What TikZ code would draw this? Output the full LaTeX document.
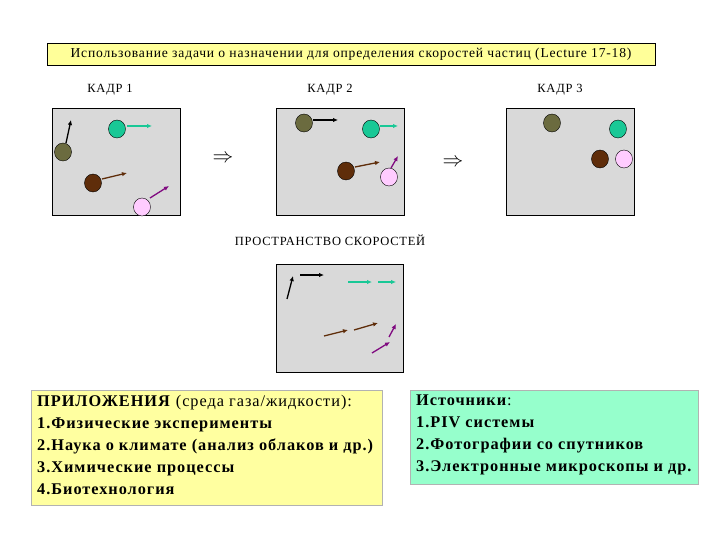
\documentclass[tikz,border=0pt]{standalone}
\usepackage{fontspec}
\setmainfont{Liberation Serif}
\newfontfamily\wide[LetterSpace=6]{Liberation Serif}
\begin{document}
\begin{tikzpicture}[x=1pt,y=-1pt,
 frame/.style={draw=black,fill=black!15},
 arr/.style={-{Latex[length=5pt,width=4.5pt]},line width=1.3pt},
 txt/.style={font=\wide\fontsize{12.5}{14}\selectfont,inner sep=0},
 big/.style={font=\wide\fontsize{16.3}{22}\selectfont,align=left,anchor=north west,inner sep=0}]
\usetikzlibrary{arrows.meta}
\definecolor{olivec}{RGB}{107,107,63}
\definecolor{tealc}{RGB}{25,200,150}
\definecolor{brownc}{RGB}{95,45,10}
\definecolor{pinkc}{RGB}{255,204,255}
\definecolor{purplec}{RGB}{128,10,128}
\definecolor{ybox}{RGB}{255,255,160}
\definecolor{gbox}{RGB}{150,255,204}
\definecolor{tbox}{RGB}{255,255,153}
\useasboundingbox (0,0) rectangle (720,540);
\node[draw,fill=tbox,minimum width=608,minimum height=22,inner sep=0,font=\wide\fontsize{13.6}{14}\selectfont] (title) at (351,54) {Использование задачи о назначении для определения скоростей частиц (Lecture 17-18)};
\node[txt] (k1) at (110,90) {КАДР 1};
\node[txt] (k2) at (330,90) {КАДР 2};
\node[txt] (k3) at (560,90) {КАДР 3};
\node[txt] (ps) at (330,240) {ПРОСТРАНСТВО СКОРОСТЕЙ};
\node[frame,minimum width=128,minimum height=107,inner sep=0] (f1) at (116,161.5) {};
\node[frame,minimum width=128,minimum height=107,inner sep=0] (f2) at (340,161.5) {};
\node[frame,minimum width=128,minimum height=107,inner sep=0] (f3) at (570,161.5) {};
\node[frame,minimum width=127,minimum height=108,inner sep=0] (fv) at (339.5,318.5) {};
\node[font=\fontsize{20}{20}\selectfont] (i1) at (223,159) {$\Rightarrow$};
\node[font=\fontsize{20}{20}\selectfont] (i2) at (453,163) {$\Rightarrow$};
% frame 1
\draw[arr,black] (66,143) -- (71,120);
\draw[fill=olivec] (63,152) ellipse (8.5 and 9);
\draw[arr,tealc] (127,126) -- (152,126);
\draw[fill=tealc] (117,129) ellipse (8.5 and 9);
\draw[arr,brownc] (102,179) -- (127,173);
\draw[fill=brownc] (93,183) ellipse (8.5 and 9);
\draw[arr,purplec] (150,198) -- (169,186);
\draw[fill=pinkc] (142,207) ellipse (8.5 and 9);
% frame 2
\draw[arr,black] (313,120) -- (338,120);
\draw[fill=olivec] (304,123) ellipse (8.5 and 9);
\draw[arr,tealc] (380,126) -- (398,126);
\draw[fill=tealc] (371,129) ellipse (8.5 and 9);
\draw[arr,brownc] (355,167) -- (380,162);
\draw[fill=brownc] (346,171) ellipse (8.5 and 9);
\draw[arr,purplec] (391,168) -- (398,156);
\draw[fill=pinkc] (389,177) ellipse (8.5 and 9);
% frame 3
\draw[fill=olivec] (552,123) ellipse (8.5 and 9);
\draw[fill=tealc] (618,129) ellipse (8.5 and 9);
\draw[fill=brownc] (600,159) ellipse (8.5 and 9);
\draw[fill=pinkc] (624,159) ellipse (8.5 and 9);
% velocity space
\draw[arr,black] (287,299) -- (293,276);
\draw[arr,black] (300,275) -- (324,275);
\draw[arr,tealc] (348,282) -- (372,282);
\draw[arr,tealc] (378,282) -- (396,282);
\draw[arr,brownc] (324,336) -- (348,330);
\draw[arr,brownc] (354,330) -- (378,323);
\draw[arr,purplec] (372,353) -- (390,342);
\draw[arr,purplec] (389,337) -- (396,324);
% boxes
\node[draw=black!30,fill=ybox,minimum width=351,minimum height=115,inner sep=0,anchor=north west] (yb) at (31,390) {};
\node[big] (yt) at (37,395) {\textbf{ПРИЛОЖЕНИЯ} (среда газа/жидкости):\\ \textbf{1.Физические эксперименты}\\ \textbf{2.Наука о климате (анализ облаков и др.)}\\ \textbf{3.Химические процессы}\\ \textbf{4.Биотехнология}};
\node[draw=black!30,fill=gbox,minimum width=288,minimum height=94,inner sep=0,anchor=north west] (gb) at (410,390) {};
\node[big] (gt) at (416,395) {\textbf{Источники}:\\ \textbf{1.PIV системы}\\ \textbf{2.Фотографии со спутников}\\ \textbf{3.Электронные микроскопы и др.}};
\end{tikzpicture}
\end{document}
